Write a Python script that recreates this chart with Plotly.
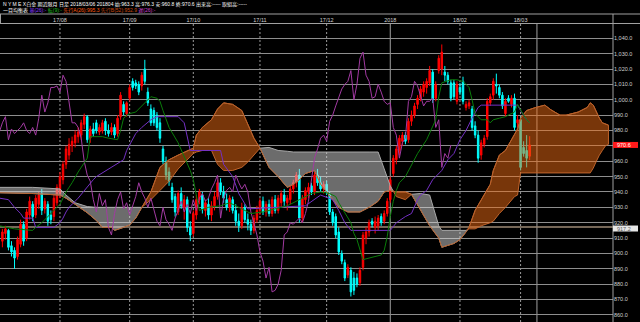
import plotly.graph_objects as go
import pandas as pd

# ---------------- data ----------------
dates = pd.bdate_range("2017-07-05", "2018-03-06")

opens = [908, 913, 915, 905, 902, 898, 906, 919, 910, 925, 932, 925, 932, 939, 929, 932, 925, 924, 933, 939,
         948, 958, 964, 970, 972, 976, 977, 984, 989, 975, 981, 985, 979, 980, 986, 980, 979, 982, 978, 989,
         997, 991, 1001, 1012, 1011, 1010, 1009, 1020, 1005, 994, 993, 990, 985, 968, 960, 953, 943, 937, 927, 939,
         930, 935, 917, 913, 925, 935, 938, 928, 932, 925, 931, 937, 946, 940, 935, 930, 935, 928, 921, 918,
         930, 922, 919, 915, 922, 928, 934, 927, 932, 926, 935, 928, 933, 938, 933, 935, 942, 946, 951, 923,
         935, 940, 944, 940, 951, 946, 942, 945, 938, 927, 924, 914, 900, 894, 886, 889, 884, 884, 881, 891,
         910, 914, 921, 917, 918, 924, 921, 926, 935, 952, 961, 967, 973, 977, 974, 986, 990, 997, 1001, 1005,
         1008, 1011, 1018, 1001, 1019, 1020, 1018, 1016, 1011, 1011, 999, 1008, 1012, 995, 996, 994, 983, 977, 964, 971,
         976, 998, 1003, 1010, 1008, 1003, 991, 1001, 997, 1001, 985, 987, 969, 967, 963.3]
highs = [916, 918, 916, 908, 904, 911, 922, 921, 929, 937, 934, 938, 940, 942, 936, 934, 928, 938, 945, 953,
         960, 970, 975, 976, 980, 982, 987, 991, 990, 983, 985, 987, 984, 987, 988, 984, 985, 984, 990, 1005,
         999, 999, 1010, 1014, 1013, 1012, 1018, 1026, 1008, 997, 995, 992, 988, 970, 963, 956, 946, 939, 941, 943,
         938, 937, 921, 928, 938, 942, 940, 935, 936, 934, 940, 948, 949, 944, 939, 938, 937, 932, 926, 933,
         932, 926, 922, 925, 931, 936, 937, 934, 935, 937, 938, 938, 941, 942, 938, 944, 948, 953, 955, 938,
         943, 946, 946, 953, 955, 950, 947, 947, 940, 929, 926, 917, 902, 896, 893, 891, 888, 887, 891, 914,
         917, 922, 923, 924, 925, 926, 928, 936, 950, 964, 970, 977, 979, 979, 988, 993, 998, 1003, 1009, 1012,
         1014, 1022, 1020, 1012, 1029, 1036, 1022, 1018, 1013, 1013, 1012, 1011, 1015, 999, 1000, 996, 986, 980, 974, 977,
         1001, 1004, 1014, 1017, 1010, 1005, 1001, 1003, 1003, 1004, 990, 989, 973, 977, 976.3]
lows = [904, 909, 902, 898, 890, 896, 904, 905, 908, 922, 921, 923, 929, 925, 926, 918, 919, 921, 931, 936,
        945, 955, 961, 966, 969, 972, 974, 981, 972, 972, 976, 978, 977, 978, 977, 976, 977, 975, 976, 987,
        990, 989, 999, 1006, 1007, 1003, 1006, 1010, 996, 983, 983, 980, 972, 958, 948, 944, 933, 924, 925, 929,
        922, 914, 908, 911, 922, 932, 926, 924, 922, 921, 928, 935, 938, 933, 928, 927, 926, 918, 914, 916,
        920, 915, 912, 913, 920, 925, 925, 924, 924, 924, 926, 926, 930, 931, 928, 932, 939, 943, 920, 920,
        932, 936, 938, 938, 944, 940, 939, 938, 925, 918, 910, 899, 893, 882, 884, 872, 873, 878, 879, 889,
        906, 911, 917, 913, 915, 918, 919, 924, 933, 950, 958, 964, 970, 971, 972, 983, 988, 994, 999, 1002,
        1004, 1009, 998, 999, 1017, 1016, 1012, 1010, 999, 1000, 997, 1003, 997, 993, 994, 980, 975, 959, 961, 969,
        974, 996, 1000, 1004, 1001, 994, 989, 998, 995, 980, 982, 954, 963, 956, 960.8]
closes = [914, 916, 904, 901, 897, 909, 919, 908, 927, 934, 924, 936, 938, 928, 934, 921, 922, 936, 943, 950,
          958, 968, 971, 973, 977, 979, 985, 989, 974, 981, 978, 980, 982, 985, 980, 978, 982, 977, 988, 1003,
          992, 998, 1008, 1008, 1009, 1005, 1016, 1012, 998, 985, 985, 982, 975, 960, 951, 947, 935, 927, 939, 931,
          935, 917, 912, 926, 935, 940, 929, 933, 925, 931, 937, 946, 940, 936, 930, 936, 928, 921, 918, 930,
          922, 919, 915, 923, 928, 934, 927, 932, 926, 935, 928, 936, 939, 934, 936, 942, 946, 951, 923, 936,
          941, 943, 940, 951, 946, 942, 945, 940, 927, 920, 912, 901, 895, 884, 891, 875, 876, 880, 889, 912,
          914, 920, 919, 921, 923, 920, 926, 934, 948, 962, 968, 975, 977, 973, 986, 990, 996, 1001, 1007, 1010,
          1012, 1019, 1000, 1010, 1027, 1031, 1016, 1012, 1001, 1002, 1010, 1005, 999, 997, 998, 982, 977, 962, 972, 975,
          999, 1002, 1012, 1009, 1003, 996, 999, 999, 1001, 982, 987, 956, 965, 962, 970.6]

# Ichimoku lines, read as (date index, value) key points
tenkan_idx = [-1, 4, 10, 11, 13, 16, 19, 21, 23, 25, 28, 29, 33, 35, 38, 39, 40, 41, 42, 44, 45, 48, 49, 51, 52,
              53, 55, 58, 60, 62, 63, 64, 65, 68, 72, 75, 78, 82, 86, 90, 94, 98, 102, 105, 108, 110, 111, 115,
              116, 117, 118, 119, 121, 123, 125, 126, 127, 128, 129, 130, 131, 133, 134, 137, 140, 142, 143, 144,
              145, 148, 150, 152, 154, 155, 156, 158, 160, 161, 162, 164, 166, 169, 170, 172, 173, 174]
tenkan_val = [918, 916, 915, 917, 920, 926, 932, 940, 946, 953, 962, 976, 976, 975, 974, 980, 988, 990, 991, 992,
              994, 1000, 1002, 1001, 999, 993, 982, 972, 963, 954, 948, 937, 928, 930, 931, 933, 930, 926, 927,
              929, 931, 935, 939, 940, 939, 937, 933, 920, 913, 909, 902, 896, 897, 898, 899, 902, 911, 924, 934,
              941, 946, 950, 954, 965, 974, 982, 987, 1002, 1011, 1013, 1013, 1012, 1008, 1000, 991, 987, 987, 985,
              987, 988, 989, 992, 997, 990, 987, 985]
kijun_idx = [-1, 2, 4, 6, 7, 10, 11, 17, 19, 20, 21, 22, 25, 27, 30, 31, 36, 40, 41, 43, 44, 46, 49, 51, 58, 60,
             62, 72, 73, 76, 78, 81, 100, 105, 109, 111, 113, 115, 128, 130, 133, 135, 137, 138, 140, 142, 144,
             145, 147, 149, 151, 153, 155, 157, 158, 170, 171, 173, 174]
kijun_val = [936, 935, 930, 926, 923, 923, 917, 917, 920, 923, 927, 930, 936, 941, 948, 950, 956, 961, 967, 974,
             978, 982, 987, 989, 989, 985, 967, 967, 958, 950, 939, 929, 931, 938, 935, 928, 920, 915, 915, 920,
             924, 926, 935, 938, 941, 948, 952, 954, 961, 965, 974, 980, 988, 995, 996.5, 996.5, 993, 987, 985]
cloud_idx = [-1, 10, 19, 21, 24, 28, 31, 33, 36, 37, 40, 42, 44, 46, 49, 52, 55, 58, 63, 64, 66, 69, 71, 73, 76,
             79, 81, 83, 85, 88, 91, 94, 96, 98, 100, 103, 105, 109, 111, 114, 118, 121, 124, 126, 128, 130, 133,
             135, 138, 141, 144, 145, 149, 151, 153, 154, 156, 158, 161, 162, 164, 166, 169, 170, 171, 173, 176,
             179, 181, 184, 186, 190, 193, 194, 195, 196, 197, 198, 199, 200]
span_a = [939.5, 939, 938, 936, 932, 926.5, 921.5, 917, 917, 915, 917, 918.5, 923, 930, 940, 956, 961, 964, 968.5,
          977, 982, 987, 994, 998, 997, 993, 984, 975, 968.5, 956, 950, 943, 945, 948, 952, 954, 945, 935, 930, 927,
          927, 930, 934, 940, 941, 940, 940, 938.5, 928, 918, 910, 904, 906.5, 909, 914, 917, 928, 935, 945, 954,
          964, 967, 978, 981, 988, 993, 995, 996.5, 993.5, 990, 990, 992, 995, 998, 996.5, 992, 988, 985, 984, 983.5]
span_b = [943, 943, 942, 938, 933, 930.5, 930, 930, 930, 930, 930, 930, 930, 930, 935, 941, 947, 955, 965, 966,
          967, 967, 958, 954, 954, 956, 959.5, 964, 968.5, 969, 967, 966.5, 966, 966, 966, 966, 966, 966, 966, 966,
          966, 966, 966, 955, 944, 937, 935, 938.5, 939, 938, 918, 915, 915, 915, 915, 916, 916, 918, 920, 921,
          926, 930, 937, 938, 952.4, 952.4, 952.4, 952.4, 952.4, 952.4, 952.4, 952.4, 952.4, 952.4, 955.6, 960,
          964, 967, 970, 971]
CHIKOU_SHIFT = 26
price_ticks = list(range(860, 1041, 10))
ref_line_price = 917.2
now_line_idx = 176.4

header1 = ("N Y M E X白金 期近限月 日足 2018/03/06 201804 始:963.3 高:976.3 安:960.8 "
           "終:970.6 出来高:----- 取組高:-----")
header2 = [("一目均衡表 ", "#ffffff"), ("基(26):- ", "#8a3cff"), ("転(9):- ", "#1fbf1f"),
           ("先行A(26):995.3 ", "#ff5a10"), ("先行B(52):952.9 ", "#c84a10"), ("遅(26):-", "#d040d0")]

# ---------------- layout constants ----------------
W, H = 640, 322
ML, MR, MT, MB = 0, 27, 24, 0
PW, PH = W - ML - MR, H - MT - MB
FONT = "Liberation Sans, Noto Sans CJK JP, sans-serif"
PX_PER_UNIT = PH / (1049.3 - 855.4)


def xp(px):
    return (px - ML) / PW


def yp(py):
    return 1 - (py - MT) / PH


idx = list(range(len(dates)))
fig = go.Figure()

fig.add_trace(go.Candlestick(
    x=idx, open=opens, high=highs, low=lows, close=closes,
    increasing=dict(line=dict(color="#ff0000", width=1), fillcolor="#ff0000"),
    decreasing=dict(line=dict(color="#00ffff", width=1), fillcolor="#00ffff"),
    whiskerwidth=0, showlegend=False, hoverinfo="skip"))

# cloud segments (split where span A and span B cross)
segs = []
cur = None
for k in range(len(cloud_idx)):
    s = span_a[k] >= span_b[k]
    if cur is None:
        cur = [s, [cloud_idx[k]], [span_a[k]], [span_b[k]]]
        continue
    if s != cur[0]:
        d0 = span_a[k - 1] - span_b[k - 1]
        d1 = span_a[k] - span_b[k]
        t = d0 / (d0 - d1)
        xc = cloud_idx[k - 1] + t * (cloud_idx[k] - cloud_idx[k - 1])
        yc = span_a[k - 1] + t * (span_a[k] - span_a[k - 1])
        cur[1].append(xc); cur[2].append(yc); cur[3].append(yc)
        segs.append(cur)
        cur = [s, [xc, cloud_idx[k]], [yc, span_a[k]], [yc, span_b[k]]]
    else:
        cur[1].append(cloud_idx[k]); cur[2].append(span_a[k]); cur[3].append(span_b[k])
segs.append(cur)

for s, xs, a, b in segs:
    fill = "rgba(240,108,20,0.5)" if s else "rgba(215,215,215,0.5)"
    edge = "#c0642c" if s else "#a8a8a8"
    fig.add_trace(go.Scatter(x=xs + xs[::-1], y=a + b[::-1], fill="toself", fillcolor=fill,
                             mode="lines", line=dict(color=edge, width=1),
                             showlegend=False, hoverinfo="skip"))
fig.add_trace(go.Scatter(x=cloud_idx, y=span_a, mode="lines", line=dict(color="#b8602a", width=1),
                         showlegend=False, hoverinfo="skip"))

# chikou span: closes shifted back
fig.add_trace(go.Scatter(x=[i - CHIKOU_SHIFT for i in idx[CHIKOU_SHIFT - 1:]], y=closes[CHIKOU_SHIFT - 1:],
                         mode="lines", line=dict(color="#a23aa2", width=1), showlegend=False, hoverinfo="skip"))
fig.add_trace(go.Scatter(x=kijun_idx, y=kijun_val, mode="lines", line=dict(color="#7430c4", width=1),
                         showlegend=False, hoverinfo="skip"))
fig.add_trace(go.Scatter(x=tenkan_idx, y=tenkan_val, mode="lines", line=dict(color="#0a7d0a", width=1),
                         showlegend=False, hoverinfo="skip"))

# month boundaries
month_idx = [i for i in range(1, len(dates)) if dates[i].month != dates[i - 1].month]
month_txt = [str(dates[i].year) if dates[i].month == 1 else dates[i].strftime("%y/%m") for i in month_idx]

shapes = []
for i in month_idx:
    if dates[i].month == 1:
        shapes.append(dict(type="line", xref="x", yref="paper", x0=i, x1=i, y0=0, y1=1,
                           line=dict(color="#a0a0a0", width=1), layer="below"))
    else:
        shapes.append(dict(type="line", xref="x", yref="paper", x0=i, x1=i, y0=0, y1=1,
                           line=dict(color="#9a9a9a", width=1, dash="2px,2px"), layer="below"))
shapes.append(dict(type="line", xref="x", yref="paper", x0=now_line_idx, x1=now_line_idx, y0=0, y1=1,
                   line=dict(color="#a0a0a0", width=1), layer="below"))
shapes.append(dict(type="line", xref="paper", yref="y", x0=0, x1=1, y0=ref_line_price, y1=ref_line_price,
                   line=dict(color="#9c8a76", width=1.5), layer="below"))
# frame lines
for py in (14, 23.5):
    shapes.append(dict(type="line", xref="paper", yref="paper", x0=xp(0), x1=xp(W), y0=yp(py), y1=yp(py),
                       line=dict(color="#a0a0a0", width=1)))
shapes.append(dict(type="line", xref="paper", yref="paper", x0=1, x1=1, y0=0, y1=yp(14),
                   line=dict(color="#a0a0a0", width=1)))
shapes.append(dict(type="line", xref="paper", yref="paper", x0=xp(0.5), x1=xp(0.5), y0=yp(23.5), y1=yp(14),
                   line=dict(color="#a0a0a0", width=1)))

# price tag boxes on the right axis
BOX_H = 6.0 / PX_PER_UNIT
last_close = closes[-1]
tag_specs = [(last_close, "#ff1a1a", "#ffffff", 0.0), (ref_line_price, "#e6e6e6", "#606060", -1.5)]
annotations = [
    dict(xref="paper", yref="paper", x=xp(1), y=yp(4.5), xanchor="left", yanchor="middle", showarrow=False,
         text=header1, font=dict(family=FONT, size=5, color="#ffffff")),
    dict(xref="paper", yref="paper", x=xp(1), y=yp(10.5), xanchor="left", yanchor="middle", showarrow=False,
         text="".join(f"<span style='color:{c}'>{t}</span>" for t, c in header2),
         font=dict(family=FONT, size=5, color="#ffffff")),
]
for price, bg, fg, shift in tag_specs:
    off = shift / PX_PER_UNIT
    shapes.append(dict(type="rect", xref="paper", yref="y", x0=1.0, x1=xp(638),
                       y0=price + off - BOX_H / 2, y1=price + off + BOX_H / 2,
                       fillcolor=bg, line=dict(width=0), layer="above"))
    annotations.append(dict(xref="paper", yref="y", x=xp(615), y=price, yshift=shift, xanchor="left",
                            yanchor="middle", showarrow=False, text=f"{price:.1f}",
                            font=dict(family=FONT, size=5.5, color=fg)))

# tick labels hidden behind the last-price tag are left blank
tick_text = ["" if abs(v - last_close) < 2 else f"{v:,.1f}" for v in price_ticks]

fig.update_layout(
    width=W, height=H, margin=dict(l=ML, r=MR, t=MT, b=MB, pad=0),
    paper_bgcolor="#000000", plot_bgcolor="#000000",
    showlegend=False, shapes=shapes, annotations=annotations,
    xaxis=dict(type="linear", range=[-0.79, 201.5], side="top", showgrid=False, zeroline=False,
               tickvals=month_idx, ticktext=month_txt, ticks="", showline=False,
               tickfont=dict(family=FONT, size=5.5, color="#d0d0d0"), rangeslider=dict(visible=False),
               fixedrange=True),
    yaxis=dict(side="right", range=[855.4, 1049.3], tickvals=price_ticks,
               ticktext=tick_text, showgrid=True, gridcolor="#8e8e8e",
               gridwidth=1.2, zeroline=False, ticks="", showline=False,
               tickfont=dict(family=FONT, size=5.5, color="#d0d0d0")),
)

fig.write_html("out.html")
